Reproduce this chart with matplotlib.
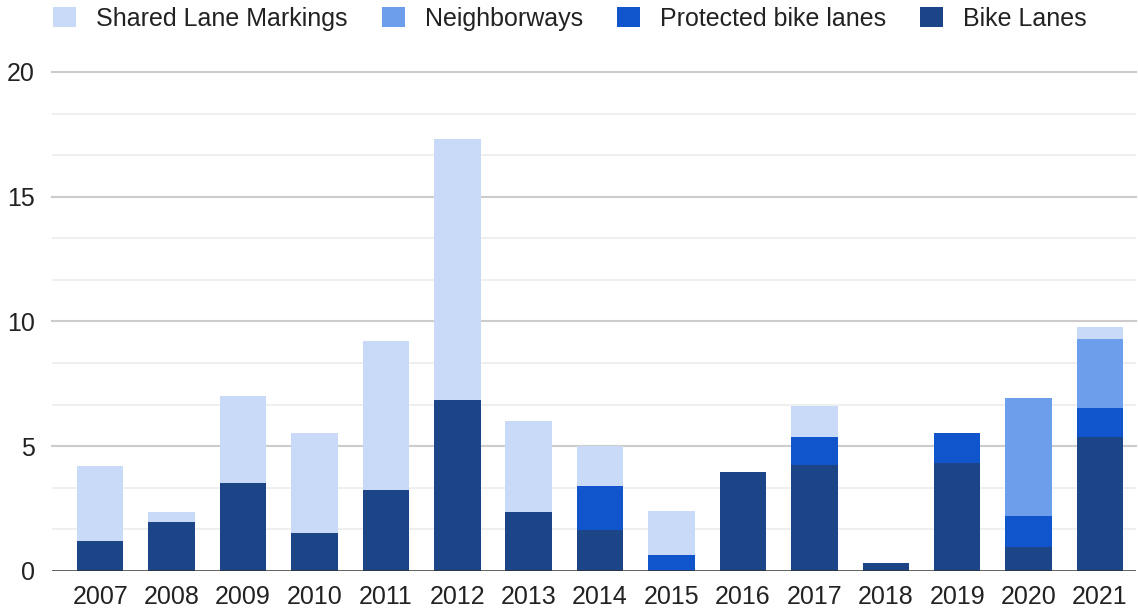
import matplotlib.pyplot as plt
from matplotlib.patches import Patch
from matplotlib.ticker import MultipleLocator
import numpy as np

plt.rcParams['font.family'] = ['Liberation Sans', 'DejaVu Sans']

# Miles added per year, by facility type
years = ["2007", "2008", "2009", "2010", "2011", "2012", "2013", "2014",
         "2015", "2016", "2017", "2018", "2019", "2020", "2021"]
bike_lanes = [1.21, 1.95, 3.51, 1.54, 3.26, 6.87, 2.36, 1.64,
              0.0, 3.98, 4.25, 0.31, 4.32, 0.97, 5.38]
protected = [0.0, 0.0, 0.0, 0.0, 0.0, 0.0, 0.0, 1.78,
             0.64, 0.0, 1.13, 0.0, 1.22, 1.23, 1.14]
neighborways = [0.0, 0.0, 0.0, 0.0, 0.0, 0.0, 0.0, 0.0,
                0.0, 0.0, 0.0, 0.0, 0.0, 4.73, 2.79]
shared_lanes = [3.01, 0.40, 3.50, 4.00, 5.96, 10.43, 3.66, 1.60,
                1.78, 0.0, 1.23, 0.0, 0.0, 0.0, 0.46]

series = [
    ("Bike Lanes", bike_lanes, "#1c4587"),
    ("Protected bike lanes", protected, "#1155cc"),
    ("Neighborways", neighborways, "#6d9eeb"),
    ("Shared Lane Markings", shared_lanes, "#c9daf8"),
]

fig = plt.figure(figsize=(11.38, 6.08), dpi=100)
ax = fig.add_axes([0.0454, 0.0609, 0.9526, 0.8207])

x = np.arange(len(years))
bottom = np.zeros(len(years))
for name, vals, color in series:
    vals = np.array(vals)
    ax.bar(x, vals, width=0.65, bottom=bottom, color=color, zorder=3)
    bottom += vals

ax.set_xlim(-0.68, 14.5)
ax.set_ylim(0, 20)
ax.set_xticks(x)
ax.set_xticklabels(years)
ax.set_yticks([0, 5, 10, 15, 20])
ax.yaxis.set_minor_locator(MultipleLocator(5 / 3))

# Gridlines
for v in ax.get_yticks(minor=True):
    if v < 20:
        ax.axhline(v, color="#ececec", lw=1.2, zorder=1)
for v in [5, 10, 15, 20]:
    ax.axhline(v, color="#cccccc", lw=1.5, zorder=1, clip_on=False)
ax.axhline(0, color="#333333", lw=1.8, zorder=4)

for s in ax.spines.values():
    s.set_visible(False)
ax.tick_params(axis="both", which="both", length=0, labelsize=18, colors="#222222")
ax.tick_params(axis="y", pad=12)
ax.tick_params(axis="x", pad=10)

handles = [Patch(facecolor=c, label=n) for n, _, c in reversed(series)]
fig.legend(handles=handles, loc="center", bbox_to_anchor=(0.501, 0.969), ncol=4,
           frameon=False, fontsize=18, handlelength=0.92, handleheight=0.85,
           handletextpad=0.8, columnspacing=1.36, borderpad=0,
           labelcolor="#222222")

fig.savefig("out.png", dpi=100, facecolor="white")
